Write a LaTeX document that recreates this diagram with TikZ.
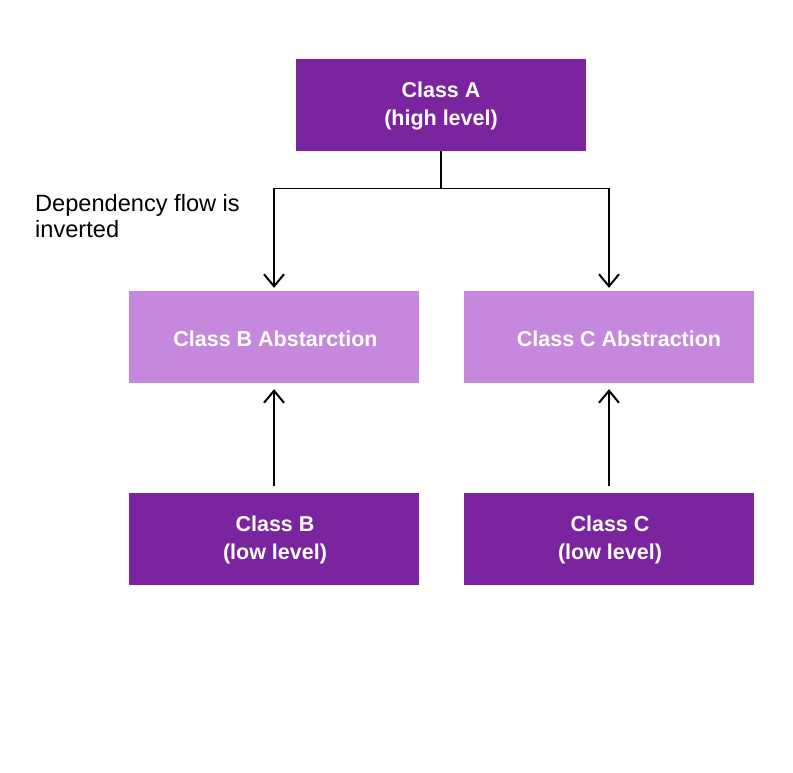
\documentclass[tikz,border=0pt]{standalone}
\usepackage{fontspec}
\setmainfont{Liberation Sans}
\usetikzlibrary{arrows.meta}
\definecolor{darkpurp}{HTML}{7A249F}
\definecolor{lightpurp}{HTML}{C688DD}
\tikzset{
  darkbox/.style={fill=darkpurp, minimum width=290pt, minimum height=92pt, inner sep=0pt},
  lightbox/.style={fill=lightpurp, minimum width=290pt, minimum height=92pt, inner sep=0pt},
  boxtext/.style={font=\fontsize{21.5}{28}\selectfont\bfseries, text=white, inner sep=0pt},
  arr/.style={line width=2pt, -{Straight Barb[length=12pt, width=20pt, line width=2pt]}},
  thin/.style={line width=1.2pt}
}
\begin{document}
\begin{tikzpicture}[x=1pt, y=-1pt]
\useasboundingbox (0,0) rectangle (793,773);
\node[darkbox] (A) at (441,105) {};
\node[boxtext, align=center] (At) at (441,106) {Class A\\(high level)};
\node[lightbox] (BA) at (274,337) {};
\node[lightbox] (CA) at (609,337) {};
\node[boxtext] (BAt) at (275.5,339) {Class B Abstarction};
\node[boxtext] (CAt) at (619,339) {Class C Abstraction};
\node[darkbox] (B) at (274,538.5) {};
\node[darkbox] (C) at (609,538.5) {};
\node[boxtext, align=center] (Bt) at (275,539.5) {Class B\\(low level)};
\node[boxtext, align=center] (Ct) at (610,539.5) {Class C\\(low level)};
\node[anchor=north west, align=left, inner sep=0pt, font=\fontsize{23.6}{26}\selectfont] (dep) at (35,194) {Dependency flow is\\inverted};
\coordinate (j) at (441,188.5);
\coordinate (jl) at (274,188.5);
\coordinate (jr) at (609,188.5);
\draw[thin] (A.south) -- (j);
\draw[thin] (jl) -- (jr);
\draw[arr] (jl) -- ([yshift=3pt]BA.north);
\draw[arr] (jr) -- ([yshift=3pt]CA.north);
\draw[arr] ([yshift=6pt]B.north) -- ([yshift=-6pt]BA.south);
\draw[arr] ([yshift=6pt]C.north) -- ([yshift=-6pt]CA.south);
\end{tikzpicture}
\end{document}
